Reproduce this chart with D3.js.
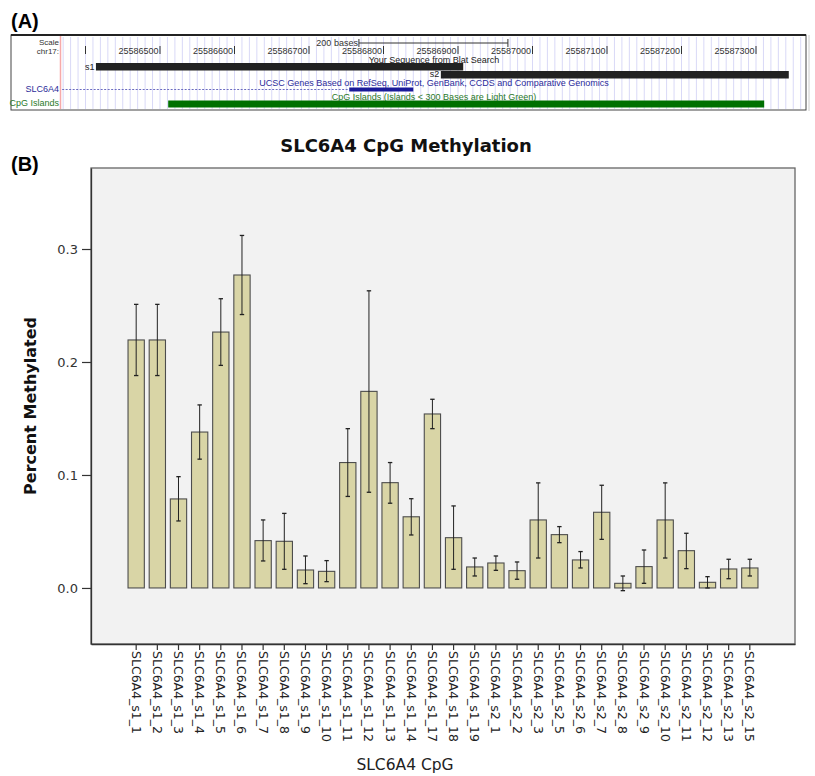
<!DOCTYPE html>
<html>
<head>
<meta charset="utf-8">
<script src="https://cdn.jsdelivr.net/npm/d3@7"></script>
<style>
  body { margin: 0; background: #fff; }
  text { font-family: "DejaVu Sans", sans-serif; }
  .browser text { font-family: "Liberation Sans", Arial, sans-serif; font-size: 9px; }
</style>
</head>
<body>
<svg width="815" height="776"></svg>
<script>
const svg = d3.select('svg');

// ---- panel B data ----
const categories = [
  'SLC6A4_s1_1', 'SLC6A4_s1_2', 'SLC6A4_s1_3', 'SLC6A4_s1_4', 'SLC6A4_s1_5',
  'SLC6A4_s1_6', 'SLC6A4_s1_7', 'SLC6A4_s1_8', 'SLC6A4_s1_9', 'SLC6A4_s1_10',
  'SLC6A4_s1_11', 'SLC6A4_s1_12', 'SLC6A4_s1_13', 'SLC6A4_s1_14', 'SLC6A4_s1_17',
  'SLC6A4_s1_18', 'SLC6A4_s1_19', 'SLC6A4_s2_1', 'SLC6A4_s2_2', 'SLC6A4_s2_3',
  'SLC6A4_s2_5', 'SLC6A4_s2_6', 'SLC6A4_s2_7', 'SLC6A4_s2_8', 'SLC6A4_s2_9',
  'SLC6A4_s2_10', 'SLC6A4_s2_11', 'SLC6A4_s2_12', 'SLC6A4_s2_13', 'SLC6A4_s2_15'
];
const means = [
  0.2195, 0.2195, 0.0788, 0.138, 0.2265, 0.277, 0.0419, 0.0413, 0.0159, 0.0147,
  0.111, 0.174, 0.0932, 0.063, 0.154, 0.0445, 0.0186, 0.0221, 0.0153, 0.0602,
  0.0472, 0.0248, 0.067, 0.0041, 0.0189, 0.0602, 0.033, 0.005, 0.0168, 0.0177
];
const errLow = [
  0.188, 0.188, 0.0593, 0.114, 0.197, 0.242, 0.0239, 0.0165, 0.0038, 0.0056,
  0.081, 0.0847, 0.075, 0.0469, 0.141, 0.0165, 0.0106, 0.0156, 0.0077, 0.0265,
  0.0401, 0.0177, 0.043, -0.0024, 0.0041, 0.0265, 0.0171, 0.0, 0.0082, 0.0106
];
const errHigh = [
  0.251, 0.251, 0.0985, 0.162, 0.256, 0.312, 0.0602, 0.066, 0.0283, 0.0242,
  0.141, 0.263, 0.111, 0.079, 0.167, 0.0726, 0.0265, 0.0283, 0.023, 0.093,
  0.0543, 0.0322, 0.0909, 0.0106, 0.0336, 0.093, 0.0484, 0.01, 0.0254, 0.0254
];
const yTicks = [0.0, 0.1, 0.2, 0.3];

// ---- panel A data (genome browser) ----
const rulerTicks = [25586400, 25586500, 25586600, 25586700, 25586800,
  25586900, 25587000, 25587100, 25587200, 25587300];
const blatHits = [
  { name: 's1', start: 25586414, end: 25586907 },
  { name: 's2', start: 25586877, end: 25587344 }
];
const geneLine = { start: 25586366, end: 25586754 };
const geneExon = { start: 25586754, end: 25586840 };
const cpgIsland = { start: 25586511, end: 25587311 };
const scaleBar = { start: 25586767, end: 25586967, label: '200 bases' };

// ================= panel A =================
svg.append('text')
  .attr('x', 11).attr('y', 28)
  .style('font-family', '"Liberation Sans", Arial, sans-serif')
  .style('font-weight', 'bold').style('font-size', '20px')
  .text('(A)');

const browser = svg.append('g').attr('class', 'browser');
const bx = d3.scaleLinear().domain([25586500, 25587300]).range([160, 756]);

browser.append('rect')
  .attr('x', 11).attr('y', 35).attr('width', 795).attr('height', 75)
  .attr('fill', '#fff').attr('stroke', '#444').attr('stroke-width', 1);
browser.append('line')
  .attr('x1', 11).attr('x2', 806).attr('y1', 35).attr('y2', 35)
  .attr('stroke', '#222').attr('stroke-width', 2);
browser.append('line')
  .attr('x1', 809).attr('x2', 809).attr('y1', 35).attr('y2', 111)
  .attr('stroke', '#ccc');

// 10bp grid
const gridPos = d3.range(25586370, 25587361, 10);
browser.selectAll('line.grid')
  .data(gridPos)
  .enter().append('line')
    .attr('class', 'grid')
    .attr('x1', d => bx(d)).attr('x2', d => bx(d))
    .attr('y1', 37).attr('y2', 109)
    .attr('stroke', '#d9d9f7').attr('stroke-width', 1);

browser.append('line')
  .attr('x1', 60.5).attr('x2', 60.5).attr('y1', 36).attr('y2', 109)
  .attr('stroke', '#f7a9a9').attr('stroke-width', 1.5);

const leftLabels = [
  { t: 'Scale', y: 44.5, c: '#333' },
  { t: 'chr17:', y: 54, c: '#333' },
  { t: 'SLC6A4', y: 92, c: '#2b2b9a' },
  { t: 'CpG Islands', y: 106, c: '#2a7a2a' }
];
browser.selectAll('text.left')
  .data(leftLabels)
  .enter().append('text')
    .attr('class', 'left')
    .attr('x', 59).attr('y', d => d.y)
    .attr('text-anchor', 'end')
    .attr('fill', d => d.c)
    .style('font-size', (d, i) => i < 2 ? '8px' : null)
    .text(d => d.t);

// ruler
const ruler = browser.selectAll('g.rtick')
  .data(rulerTicks)
  .enter().append('g')
    .attr('class', 'rtick')
    .attr('transform', d => `translate(${bx(d)},0)`);
ruler.append('line')
  .attr('y1', 46).attr('y2', 54).attr('stroke', '#333');
ruler.append('text')
  .attr('x', -1.5).attr('y', 54)
  .attr('text-anchor', 'end').attr('fill', '#333')
  .text((d, i) => i === 0 ? '' : d);

// scale bar
browser.append('line')
  .attr('x1', bx(scaleBar.start)).attr('x2', bx(scaleBar.end))
  .attr('y1', 43).attr('y2', 43).attr('stroke', '#333');
browser.selectAll('line.sbcap')
  .data([scaleBar.start, scaleBar.end])
  .enter().append('line')
    .attr('class', 'sbcap')
    .attr('x1', d => bx(d)).attr('x2', d => bx(d))
    .attr('y1', 39).attr('y2', 47).attr('stroke', '#333');
browser.append('text')
  .attr('x', bx(scaleBar.start) - 1).attr('y', 46)
  .attr('text-anchor', 'end').attr('fill', '#333')
  .text(scaleBar.label);

// blat hits
browser.append('text')
  .attr('x', 434).attr('y', 63)
  .attr('text-anchor', 'middle').attr('fill', '#222')
  .text('Your Sequence from Blat Search');
browser.selectAll('rect.hit')
  .data(blatHits)
  .enter().append('rect')
    .attr('class', 'hit')
    .attr('x', d => bx(d.start))
    .attr('y', (d, i) => 63 + i * 8)
    .attr('width', d => bx(d.end) - bx(d.start))
    .attr('height', 7.5)
    .attr('fill', '#222');
browser.selectAll('text.hit')
  .data(blatHits)
  .enter().append('text')
    .attr('class', 'hit')
    .attr('x', d => bx(d.start) - 1.5)
    .attr('y', (d, i) => 70 + i * 7)
    .attr('text-anchor', 'end').attr('fill', '#222')
    .text(d => d.name);

// UCSC genes track
browser.append('text')
  .attr('x', 434).attr('y', 86)
  .attr('text-anchor', 'middle').attr('fill', '#2b2b9a')
  .text('UCSC Genes Based on RefSeq, UniProt, GenBank, CCDS and Comparative Genomics');
browser.append('line')
  .attr('x1', bx(geneLine.start) + 2).attr('x2', bx(geneLine.end))
  .attr('y1', 89.5).attr('y2', 89.5)
  .attr('stroke', '#6b6bc0').attr('stroke-dasharray', '2,1.5');
browser.append('rect')
  .attr('x', bx(geneExon.start)).attr('y', 87.5)
  .attr('width', bx(geneExon.end) - bx(geneExon.start)).attr('height', 4)
  .attr('fill', '#1a1a99');

// CpG islands track
browser.append('text')
  .attr('x', 434).attr('y', 100)
  .attr('text-anchor', 'middle').attr('fill', '#2a7a2a')
  .text('CpG Islands (Islands < 300 Bases are Light Green)');
browser.append('rect')
  .attr('x', bx(cpgIsland.start)).attr('y', 100.5)
  .attr('width', bx(cpgIsland.end) - bx(cpgIsland.start)).attr('height', 7)
  .attr('fill', '#007000');

// ================= panel B =================
svg.append('text')
  .attr('x', 11).attr('y', 171)
  .style('font-family', '"Liberation Sans", Arial, sans-serif')
  .style('font-weight', 'bold').style('font-size', '20px')
  .text('(B)');

const plot = { left: 91, right: 795, top: 168, bottom: 644 };

const x = d3.scaleBand()
  .domain(categories)
  .range([plot.left, plot.right])
  .paddingInner(0.23)
  .paddingOuter(1.75);

const y = d3.scaleLinear()
  .domain([-0.0496, 0.3717])
  .range([plot.bottom, plot.top]);

svg.append('text')
  .attr('x', 406).attr('y', 152)
  .attr('text-anchor', 'middle')
  .style('font-weight', 'bold').style('font-size', '18px')
  .attr('fill', '#111')
  .text('SLC6A4 CpG Methylation');

// plot frame
svg.append('rect')
  .attr('x', plot.left).attr('y', plot.top)
  .attr('width', plot.right - plot.left).attr('height', plot.bottom - plot.top)
  .attr('fill', '#f2f2f2').attr('stroke', '#666').attr('stroke-width', 1.3);

// bars
svg.append('g')
  .selectAll('rect')
  .data(means)
  .enter().append('rect')
    .attr('x', (d, i) => x(categories[i]))
    .attr('y', d => y(Math.max(0, d)))
    .attr('width', x.bandwidth())
    .attr('height', d => Math.abs(y(0) - y(d)))
    .attr('fill', '#d9d5a6')
    .attr('stroke', '#4d4d4d')
    .attr('stroke-width', 1.1);

// error bars
const eb = svg.append('g')
  .selectAll('g')
  .data(means)
  .enter().append('g')
    .attr('transform', (d, i) => `translate(${x(categories[i]) + x.bandwidth() / 2},0)`);
eb.append('line')
  .attr('y1', (d, i) => y(errLow[i])).attr('y2', (d, i) => y(errHigh[i]))
  .attr('stroke', '#222').attr('stroke-width', 1);
eb.append('line')
  .attr('x1', -2.2).attr('x2', 2.2)
  .attr('y1', (d, i) => y(errLow[i])).attr('y2', (d, i) => y(errLow[i]))
  .attr('stroke', '#222').attr('stroke-width', 1.3);
eb.append('line')
  .attr('x1', -2.2).attr('x2', 2.2)
  .attr('y1', (d, i) => y(errHigh[i])).attr('y2', (d, i) => y(errHigh[i]))
  .attr('stroke', '#222').attr('stroke-width', 1.3);

// y axis
const yAxis = svg.append('g')
  .attr('transform', `translate(${plot.left},0)`)
  .call(d3.axisLeft(y).tickValues(yTicks).tickFormat(d3.format('.1f')).tickSizeInner(9).tickSizeOuter(0));
yAxis.select('.domain').attr('stroke', '#333').attr('stroke-width', 1.3);
yAxis.selectAll('.tick line').attr('stroke', '#333').attr('stroke-width', 1.2);
yAxis.selectAll('.tick text')
  .attr('fill', '#333')
  .style('font-family', '"DejaVu Sans", sans-serif')
  .style('font-size', '13px')
  .attr('x', -13);

// x axis
const xAxis = svg.append('g')
  .attr('transform', `translate(0,${plot.bottom})`)
  .call(d3.axisBottom(x).tickSizeInner(6).tickSizeOuter(0));
xAxis.select('.domain').attr('stroke', '#333').attr('stroke-width', 1.3);
xAxis.selectAll('.tick line').attr('stroke', '#333').attr('stroke-width', 1.2);
xAxis.selectAll('.tick text')
  .attr('fill', '#222')
  .style('font-family', '"DejaVu Sans", sans-serif')
  .style('font-size', '12.5px')
  .attr('text-anchor', 'start')
  .attr('transform', 'rotate(90)')
  .attr('x', 7).attr('y', 0).attr('dy', '0.36em');

// axis titles
svg.append('text')
  .attr('transform', `translate(36,${(plot.top + plot.bottom) / 2}) rotate(-90)`)
  .attr('text-anchor', 'middle')
  .style('font-weight', 'bold').style('font-size', '16px')
  .attr('fill', '#111')
  .text('Percent Methylated');

svg.append('text')
  .attr('x', 405).attr('y', 770)
  .attr('text-anchor', 'middle')
  .style('font-size', '15.5px')
  .attr('fill', '#222')
  .text('SLC6A4 CpG');
</script>
</body>
</html>
